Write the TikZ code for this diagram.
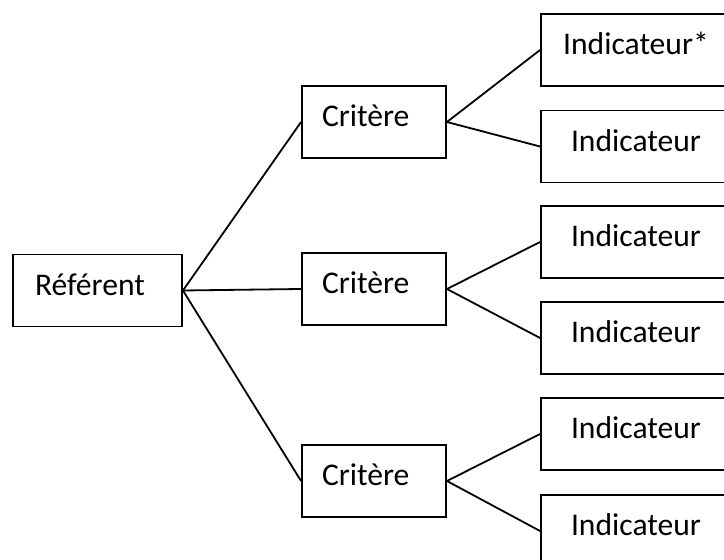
\documentclass[tikz,border=0pt]{standalone}
\usepackage{fontspec}
\setmainfont{Carlito}
\usepackage{tikz}
\usetikzlibrary{positioning}
\tikzset{
	box/.style={draw, line width=0.95pt, rectangle, minimum height=36pt, text height=0.75em, text depth=0.25em, font=\fontsize{15.8pt}{19pt}\selectfont},
	referent/.style={box, minimum width=84.5pt, inner xsep=11pt, text width=62.5pt, align=left},
	critere/.style={box, minimum width=72pt, inner xsep=10pt, text width=52pt, align=left},
	indicateur/.style={box, minimum width=95pt, align=center},
	lien/.style={line width=0.9pt}
}

\begin{document}
\begin{tikzpicture}[x=0.5pt, y=-0.5pt]
		\useasboundingbox (0,0) rectangle (724,560);
		\clip (0,0) rectangle (724,560);
		\node[referent] (ref) at (97.5,290.5) {Référent};
		\node[critere] (c1) at (374,122) {Critère};
		\node[critere] (c2) at (374,289) {Critère};
		\node[critere] (c3) at (374,481) {Critère};
		\node[indicateur] (i1) at (636,50) {Indicateur*};
		\node[indicateur] (i2) at (636,146.5) {Indicateur};
		\node[indicateur] (i3) at (636,242) {Indicateur};
		\node[indicateur] (i4) at (636,338) {Indicateur};
		\node[indicateur] (i5) at (636,434) {Indicateur};
		\node[indicateur] (i6) at (636,531) {Indicateur};
		\draw[lien] (ref.east) -- (c1.west);
		\draw[lien] (ref.east) -- (c2.west);
		\draw[lien] (ref.east) -- (c3.west);
		\draw[lien] (c1.east) -- (i1.west);
		\draw[lien] (c1.east) -- (i2.west);
		\draw[lien] (c2.east) -- (i3.west);
		\draw[lien] (c2.east) -- (i4.west);
		\draw[lien] (c3.east) -- (i5.west);
		\draw[lien] (c3.east) -- (i6.west);
	\end{tikzpicture}
\end{document}
